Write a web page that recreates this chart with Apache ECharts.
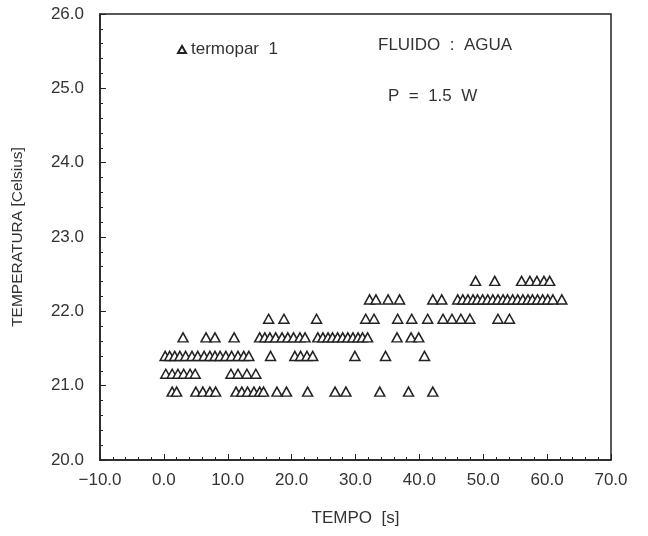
<!DOCTYPE html>
<html>
<head>
<meta charset="utf-8">
<script src="https://cdn.jsdelivr.net/npm/echarts@6/dist/echarts.min.js"></script>
<style>html,body{margin:0;padding:0;background:#fff;}#chart{width:648px;height:536px;}</style>
</head>
<body>
<div id="chart"></div>
<script>
// Temperature levels (Celsius) and times (s) of the points at each level
const levels = [20.92, 21.16, 21.40, 21.65, 21.90, 22.16, 22.41];
const t_2092 = [1.3, 2.0, 5.0, 6.1, 7.2, 8.1, 11.3, 12.2, 13.1, 14.1, 15.0, 15.6, 17.7, 19.2, 22.5, 26.8, 28.5, 33.8, 38.3, 42.1];
const t_2116 = [0.3, 1.3, 2.2, 3.1, 4.1, 4.9, 10.5, 11.6, 13.0, 14.4];
const t_2140 = [0.2, 0.9, 1.7, 2.5, 3.4, 4.4, 5.3, 6.3, 7.2, 8.0, 8.8, 9.7, 10.6, 11.6, 12.5, 13.3, 16.7, 20.5, 21.4, 22.4, 23.3, 29.9, 34.7, 40.8];
const t_2165 = [3.0, 6.6, 8.0, 11.0, 15.0, 15.8, 16.6, 17.5, 18.5, 19.4, 20.3, 21.3, 22.1, 24.1, 24.9, 25.7, 26.4, 27.2, 28.0, 28.8, 29.6, 30.4, 31.1, 31.9, 36.5, 38.7, 39.9];
const t_2190 = [16.4, 18.8, 23.9, 31.6, 32.9, 36.6, 38.8, 41.3, 43.7, 45.1, 46.5, 47.9, 52.3, 54.1];
const t_2216 = [32.2, 33.2, 35.1, 36.9, 42.1, 43.5, 46.0, 46.8, 47.6, 48.4, 49.1, 49.9, 50.7, 51.5, 52.3, 53.1, 53.8, 54.6, 55.4, 56.2, 57.0, 57.7, 58.5, 59.3, 60.1, 60.9, 62.3];
const t_2241 = [48.8, 51.8, 56.0, 57.3, 58.4, 59.5, 60.4];
const timesByLevel = [t_2092, t_2116, t_2140, t_2165, t_2190, t_2216, t_2241];

const xTicks = [-10, 0, 10, 20, 30, 40, 50, 60, 70];
const yTicks = [20, 21, 22, 23, 24, 25, 26];

const data = [];
timesByLevel.forEach((arr, i) => arr.forEach(t => data.push([t, levels[i]])));

const FONT = 'Liberation Sans';
const TXT = '#333';
const fmt = v => (v < 0 ? '\u2212' : '') + Math.abs(v).toFixed(1);
const SERIES_NAME = 'termopar  1';

const chart = echarts.init(document.getElementById('chart'), null, {renderer: 'canvas'});
chart.setOption({
  animation: false,
  backgroundColor: '#fff',
  grid: {left: 100, right: 37, top: 14, bottom: 76, show: true, borderColor: '#222', borderWidth: 1.5, backgroundColor: 'transparent'},
  legend: {
    left: 172, top: 36, itemWidth: 8, itemHeight: 7, itemGap: 4,
    textStyle: {fontFamily: FONT, fontSize: 17, color: TXT},
    data: [SERIES_NAME]
  },
  xAxis: {
    type: 'value', min: xTicks[0], max: xTicks[xTicks.length - 1], interval: 10,
    name: 'TEMPO  [s]', nameLocation: 'middle', nameGap: 50,
    nameTextStyle: {fontFamily: FONT, fontSize: 17, color: TXT},
    axisLine: {show: true, onZero: false, lineStyle: {color: '#222', width: 1.5}},
    axisTick: {show: true, inside: true, length: 6, lineStyle: {color: '#222'}},
    minorTick: {show: true, splitNumber: 5, length: 3, lineStyle: {color: '#222'}},
    splitLine: {show: false},
    axisLabel: {fontFamily: FONT, fontSize: 17, color: TXT, margin: 12, formatter: fmt, showMinLabel: true, showMaxLabel: true}
  },
  yAxis: {
    type: 'value', min: yTicks[0], max: yTicks[yTicks.length - 1], interval: 1,
    name: 'TEMPERATURA [Celsius]', nameLocation: 'middle', nameGap: 74,
    nameTextStyle: {fontFamily: FONT, fontSize: 15.5, color: TXT},
    axisLine: {show: true, onZero: false, lineStyle: {color: '#222', width: 1.5}},
    axisTick: {show: true, inside: true, length: 6, lineStyle: {color: '#222'}},
    minorTick: {show: true, splitNumber: 5, length: 3, lineStyle: {color: '#222'}},
    splitLine: {show: false},
    axisLabel: {fontFamily: FONT, fontSize: 17, color: TXT, margin: 16, formatter: fmt, showMinLabel: true, showMaxLabel: true}
  },
  series: [{
    name: SERIES_NAME, type: 'scatter', symbol: 'triangle', symbolSize: [10, 9],
    itemStyle: {color: '#fff', borderColor: '#222', borderWidth: 1.5, opacity: 1},
    data: data
  }],
  graphic: [
    {type: 'text', left: 378, top: 37, style: {text: 'FLUIDO  :  AGUA', fontFamily: FONT, fontSize: 17, fill: TXT}},
    {type: 'text', left: 388, top: 88, style: {text: 'P  =  1.5  W', fontFamily: FONT, fontSize: 17, fill: TXT}}
  ]
});
</script>
</body>
</html>
